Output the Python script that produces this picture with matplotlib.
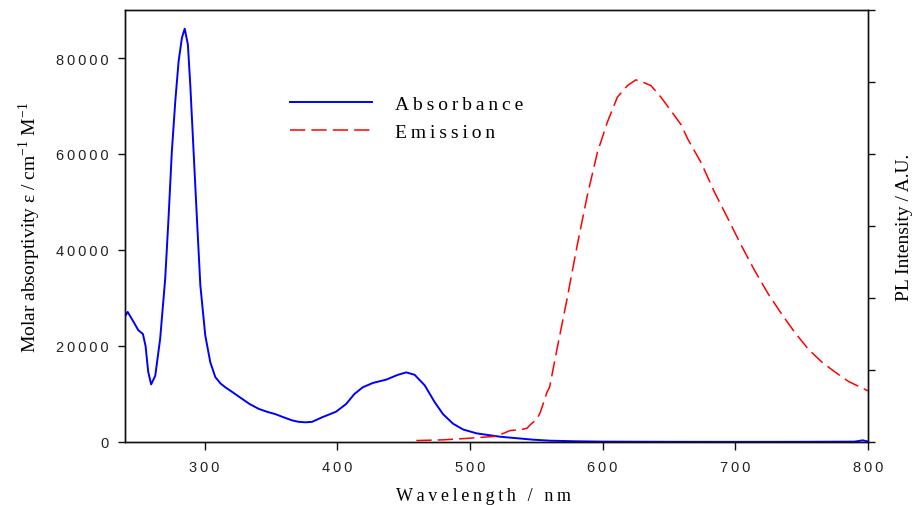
import numpy as np
import matplotlib.pyplot as plt
from matplotlib.ticker import FuncFormatter

# absorbance spectrum (nm, molar absorptivity)
abs_nm = [240, 242, 246.5, 250, 253.5, 255.5, 257.5, 259.7, 262.8, 266.5,
          270.3, 272.8, 275.3, 277.9, 280.4, 282.9, 285, 287.4, 289.2, 291.7,
          294.2, 296.8, 300.5, 304.3, 308.1, 312, 315.6, 322, 328.2, 334,
          340.8, 347, 353.4, 360, 366, 371, 376, 381, 389, 399,
          406.6, 412.9, 419.2, 426.8, 436.9, 445.7, 452, 458.3, 465.9, 473.4,
          479.7, 487.3, 494.9, 505, 522.7, 547.7, 560.6, 580, 600, 650,
          700, 750, 790, 796, 800]
abs_eps = [26200, 27100, 25000, 23300, 22500, 20000, 14600, 12000, 13800, 21500,
           34000, 46600, 60500, 71000, 79300, 84200, 86100, 82800, 74400, 60500,
           46600, 32600, 22200, 16600, 13500, 12200, 11400, 10200, 9000, 7900,
           6900, 6300, 5800, 5100, 4500, 4200, 4100, 4200, 5200, 6300,
           7900, 10000, 11400, 12300, 13000, 14000, 14500, 14000, 11800, 8300,
           5800, 3800, 2600, 1800, 1100, 480, 270, 150, 80, 40,
           30, 40, 80, 350, 100]

# emission spectrum (nm, PL intensity a.u.)
em_nm = [459.6, 480, 497.5, 520, 530.3, 537.9, 542.9, 545.5, 550.5, 553,
         558, 560, 565.6, 573.2, 580.8, 588.4, 596, 603.5, 611.1, 618.7,
         625, 630, 636.4, 643.9, 651.5, 659, 664.1, 674.2, 684.3, 694.5,
         704.5, 714.6, 724.7, 734.8, 744.9, 755, 765.2, 775.3, 785.4, 795.5,
         800]
em_int = [0.02, 0.03, 0.05, 0.08, 0.16, 0.17, 0.19, 0.24, 0.32, 0.41,
          0.69, 0.76, 1.29, 1.99, 2.73, 3.42, 4.02, 4.44, 4.79, 4.95,
          5.03, 5.0, 4.95, 4.79, 4.60, 4.41, 4.21, 3.88, 3.47, 3.10,
          2.73, 2.38, 2.06, 1.78, 1.52, 1.29, 1.11, 0.97, 0.84, 0.75,
          0.71]

THIN = '\u2009'
SANS = ['Liberation Sans', 'DejaVu Sans']
SERIF = ['Liberation Serif', 'DejaVu Serif']


def spaced(s, sep=THIN):
    return sep.join(s)


fig = plt.figure(figsize=(9.16, 5.06), dpi=100)
ax = fig.add_axes([125 / 916, 1 - 443 / 506, (868 - 125) / 916, (443 - 11) / 506])
ax2 = ax.twinx()

l1, = ax.plot(abs_nm, abs_eps, color='#0000ff', lw=1.4, label=spaced('Absorbance'))
l2, = ax2.plot(em_nm, em_int, color='#ff0000', lw=1.1, ls=(0, (10, 4)),
               label=spaced('Emission'))

ax.set_xlim(240, 800)
ax.set_ylim(0, 90000)
ax2.set_ylim(0, 6)
ax.set_xticks([300, 400, 500, 600, 700, 800])
ax.set_yticks([0, 20000, 40000, 60000, 80000])
ax2.set_yticks(range(7))
ax2.set_yticklabels([])

fmt = FuncFormatter(lambda v, p: spaced('%d' % v))
ax.xaxis.set_major_formatter(fmt)
ax.yaxis.set_major_formatter(fmt)

for a in (ax, ax2):
    for sp in a.spines.values():
        sp.set_linewidth(1.0)
        sp.set_color('#111111')
    a.tick_params(direction='out', length=5, width=1.0, color='#111111')
ax.tick_params(axis='y', pad=7)
ax.tick_params(axis='x', length=6, pad=7)

for lab in ax.get_xticklabels() + ax.get_yticklabels():
    lab.set_family(SANS)
    lab.set_fontsize(10.5)
    lab.set_color('#222222')

ax.set_xlabel(spaced('Wavelength / nm'), family=SERIF, fontsize=13)
ax.xaxis.set_label_coords(0.483, -0.104)
ax.set_ylabel('Molar absorptivity ε / cm$^{\\mathregular{-1}}$ M$^{\\mathregular{-1}}$',
              family=SERIF, fontsize=14, labelpad=9)
ax2.set_ylabel('PL Intensity / A.U.', family=SERIF, fontsize=14, labelpad=12)

leg = ax2.legend(handles=[l1, l2], loc='upper left', frameon=False,
                 bbox_to_anchor=(290 / 916, 1 - 96 / 506),
                 bbox_transform=fig.transFigure, borderpad=0, borderaxespad=0,
                 handlelength=4.2, handletextpad=1.2, labelspacing=0.55,
                 prop={'family': SERIF, 'size': 14})

fig.savefig('out.png', dpi=100)
